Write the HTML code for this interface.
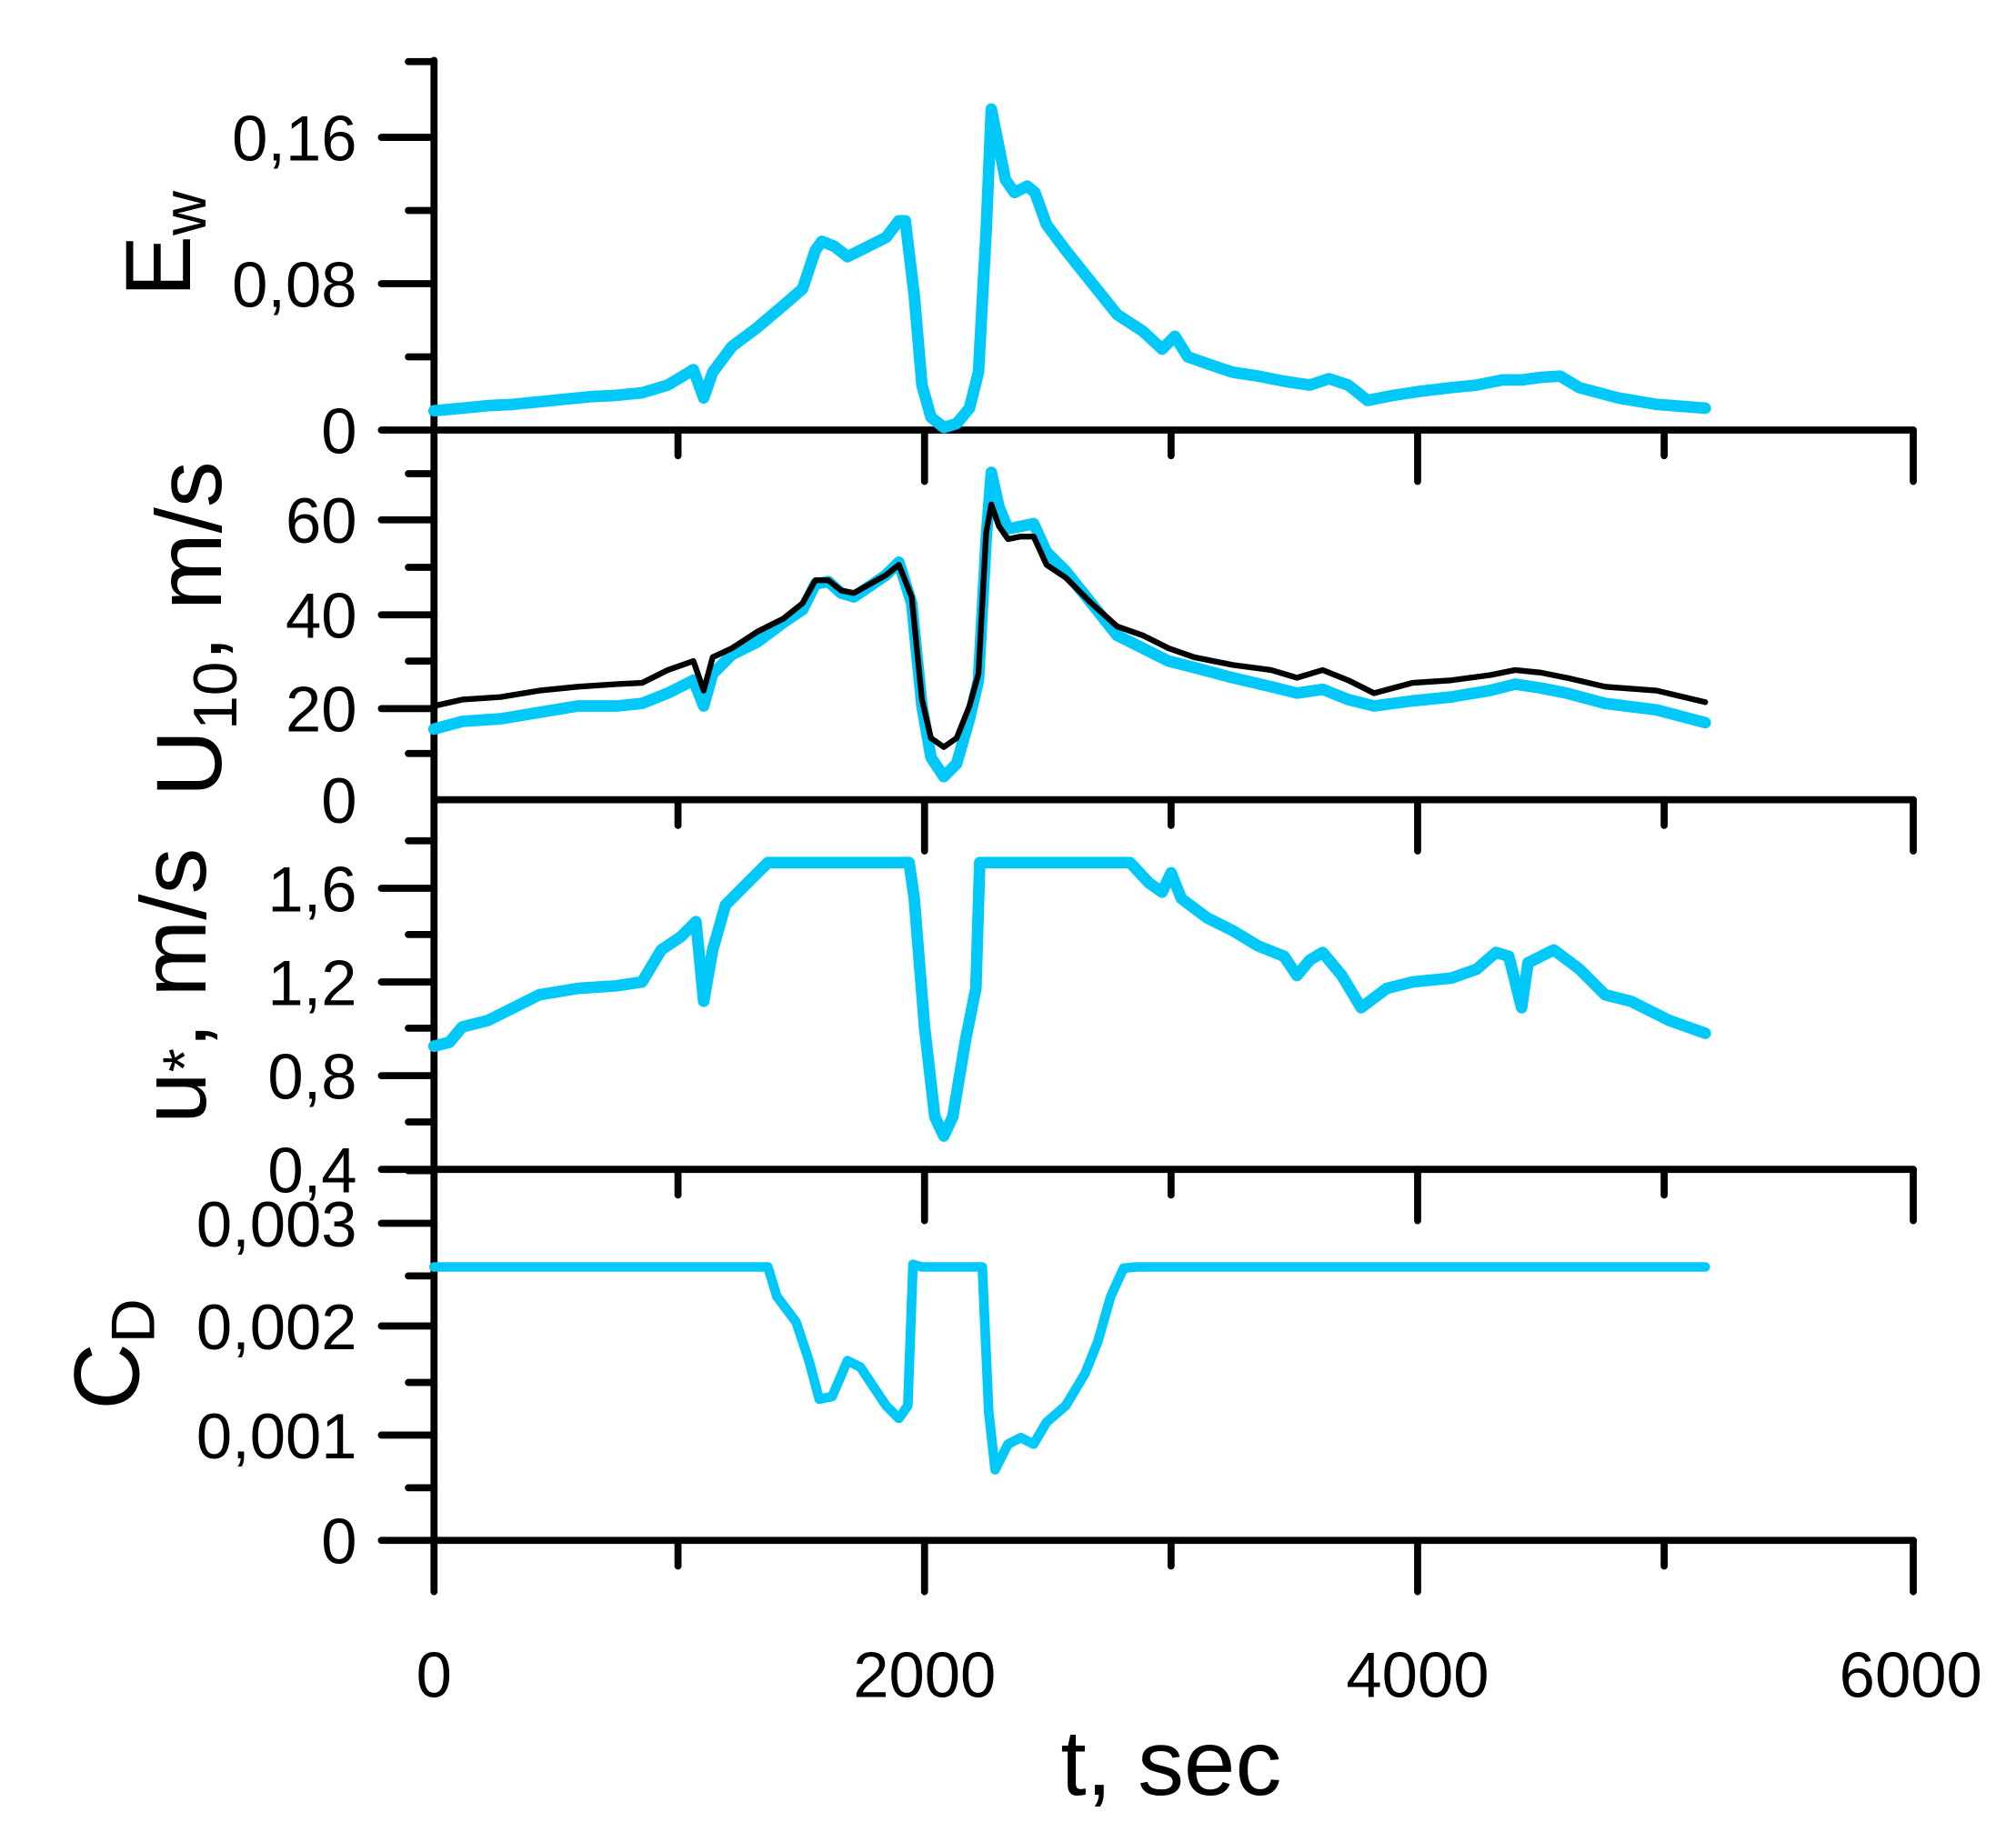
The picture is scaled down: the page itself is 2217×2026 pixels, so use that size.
<!DOCTYPE html>
<html><head><style>html,body{margin:0;padding:0;background:#fff;}svg{display:block}</style></head>
<body>
<svg width="2217" height="2026" viewBox="0 0 1570 1435" preserveAspectRatio="none" xmlns="http://www.w3.org/2000/svg" font-family="Liberation Sans, sans-serif">
<g stroke="#000" stroke-width="5.5" stroke-linecap="round" fill="none">
<line x1="338" y1="47" x2="338" y2="1240"/>
<line x1="338" y1="335" x2="1490" y2="335"/>
<line x1="338" y1="623" x2="1490" y2="623"/>
<line x1="338" y1="911" x2="1490" y2="911"/>
<line x1="338" y1="1200" x2="1490" y2="1200"/>
<line x1="1490" y1="335" x2="1490" y2="375"/>
<line x1="1490" y1="623" x2="1490" y2="663"/>
<line x1="1490" y1="911" x2="1490" y2="951"/>
<line x1="1490" y1="1200" x2="1490" y2="1240"/>
<path d="M528,335v20M720,335v40M912,335v20M1104,335v40M1296,335v20
M528,623v20M720,623v40M912,623v20M1104,623v40M1296,623v20
M528,911v20M720,911v40M912,911v20M1104,911v40M1296,911v20
M528,1200v20M720,1200v40M912,1200v20M1104,1200v40M1296,1200v20"/>
<path d="M297,335h41M297,221h41M297,107h41M318,278h20M318,164h20M318,48h20"/>
<path d="M297,552h41M297,479h41M297,405h41M318,587h20M318,515h20M318,442h20M318,369h20"/>
<path d="M297,911h41M297,838h41M297,765h41M297,692h41M318,874h20M318,801h20M318,728h20M318,655h20"/>
<path d="M297,1200h41M297,1118h41M297,1033h41M297,953h41M318,1159h20M318,1077h20M318,994h20M318,912h20"/>
</g>
<g font-size="50" text-anchor="end" fill="#000">
<text x="278" y="125">0,16</text><text x="278" y="239">0,08</text><text x="278" y="353">0</text>
<text x="278" y="423">60</text><text x="278" y="497">40</text><text x="278" y="570">20</text><text x="278" y="641">0</text>
<text x="278" y="710">1,6</text><text x="278" y="783">1,2</text><text x="278" y="856">0,8</text><text x="278" y="929">0,4</text>
<text x="278" y="971">0,003</text><text x="278" y="1051">0,002</text><text x="278" y="1136">0,001</text><text x="278" y="1218">0</text>
</g>
<g font-size="50" text-anchor="middle">
<text x="338" y="1322">0</text><text x="720" y="1322">2000</text><text x="1104" y="1322">4000</text><text x="1488" y="1322">6000</text>
</g>
<text x="912" y="1398" font-size="72" text-anchor="middle">t, sec</text>
<g font-size="72">
<text transform="translate(148,190) rotate(-90)" text-anchor="middle">E<tspan font-size="48" dy="12">w</tspan></text>
<text transform="translate(172,490) rotate(-90)" text-anchor="middle">U<tspan font-size="48" dy="12">10</tspan><tspan dy="-12">, m/s</tspan></text>
<text transform="translate(160,768) rotate(-90)" text-anchor="middle">u<tspan font-size="48">*</tspan>, m/s</text>
<text transform="translate(108,1055) rotate(-90)" text-anchor="middle">C<tspan font-size="48" dy="12">D</tspan></text>
</g>
<g fill="none" stroke-linejoin="round" stroke-linecap="round">
<polyline stroke="#00c8f8" stroke-width="9" points="338,320 360,318 380,316 400,315 420,313 440,311 460,309 480,308 500,306 520,300 540,288 548,310 555,290 570,270 590,255 610,238 625,225 635,195 640,188 650,192 660,200 670,195 690,185 700,172 705,172 712,230 718,300 725,325 735,333 745,330 755,318 762,290 768,180 772,85 777,110 783,140 790,150 800,145 806,150 815,175 830,195 850,220 870,245 890,258 905,272 915,262 925,278 945,285 960,290 980,293 1000,297 1020,300 1035,295 1050,300 1065,312 1085,308 1105,305 1130,302 1150,300 1170,296 1185,296 1200,294 1215,293 1230,302 1260,310 1290,315 1328,318"/>
<polyline stroke="#00c8f8" stroke-width="9" points="338,568 360,562 390,560 420,555 450,550 480,550 500,548 520,540 540,530 548,550 555,525 570,510 590,500 610,485 625,475 635,455 645,453 655,462 665,465 690,448 700,438 710,470 718,550 725,590 735,605 745,595 755,560 762,530 768,420 772,368 778,395 785,412 795,410 805,408 815,430 830,445 850,470 870,495 890,505 910,515 930,520 960,528 990,535 1010,540 1030,537 1050,545 1070,550 1100,546 1130,543 1160,538 1180,533 1200,536 1220,540 1250,548 1290,553 1328,563"/>
<polyline stroke="#000" stroke-width="4.5" points="338,550 360,545 390,543 420,538 450,535 480,533 500,532 520,522 540,515 548,538 555,512 570,505 590,492 610,482 625,470 635,452 645,452 655,460 665,462 690,448 700,440 710,465 718,545 725,575 735,582 745,575 755,550 762,525 768,415 772,393 778,410 785,420 795,418 805,418 815,440 830,450 850,470 870,488 890,495 910,505 930,512 960,518 990,522 1010,528 1030,522 1050,530 1070,540 1100,532 1130,530 1160,526 1180,522 1200,524 1220,528 1250,535 1290,538 1328,547"/>
<polyline stroke="#00c8f8" stroke-width="9" points="338,815 350,812 360,800 380,795 400,785 420,775 450,770 480,768 500,765 515,740 530,730 542,718 548,780 555,740 565,705 580,690 598,672 708,672 712,700 720,800 728,870 735,885 742,870 752,810 760,770 763,672 880,672 895,688 905,695 912,680 920,700 940,715 960,725 980,737 1000,745 1010,760 1020,748 1030,742 1045,760 1060,785 1080,770 1100,765 1130,762 1150,755 1165,742 1175,745 1185,785 1190,750 1210,740 1230,755 1250,775 1270,780 1290,790 1300,795 1328,805"/>
<polyline stroke="#00c8f8" stroke-width="7.5" points="338,987 598,987 605,1010 620,1030 630,1060 638,1090 648,1088 660,1060 670,1065 680,1080 690,1095 700,1105 707,1095 711,985 718,987 765,987 770,1100 775,1145 785,1125 795,1120 805,1125 815,1108 830,1095 845,1070 855,1045 865,1010 875,988 885,987 1328,987"/>
</g>
</svg>
</body></html>
